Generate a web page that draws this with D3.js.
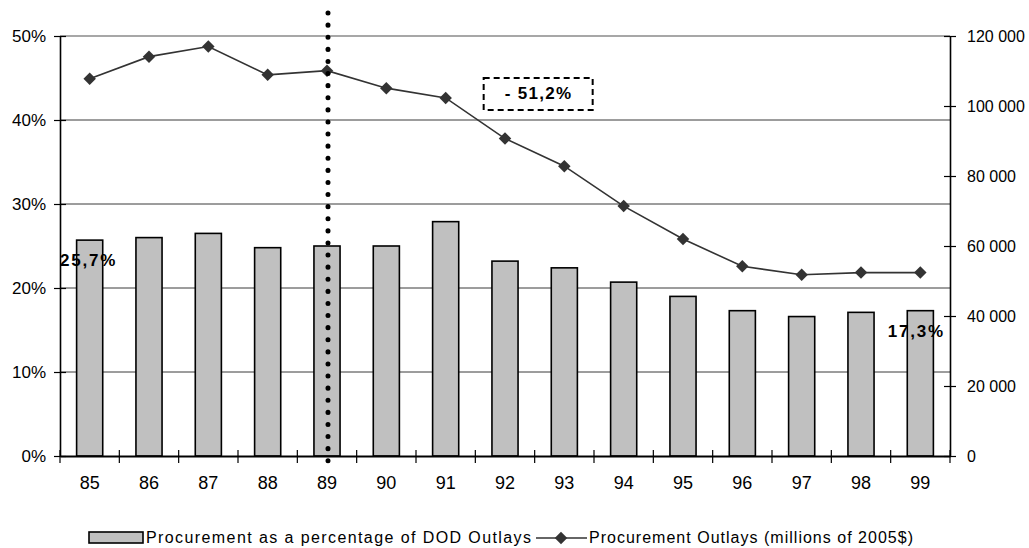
<!DOCTYPE html>
<html>
  <head>
    <meta charset="utf-8">
    <title>Procurement outlays</title>
    <script src="https://d3js.org/d3.v7.min.js"></script>
    <style>
      body { margin: 0; background: #fff; }
      text { font-family: "Liberation Sans", Arial, sans-serif; fill: #000; }
      .grid line { stroke: #3a3a3a; stroke-width: 1px; }
      .bar { fill: #c0c0c0; stroke: #000; stroke-width: 1.6px; }
    </style>
  </head>
  <body>
    <script>

      // chart data
      var years = ["85", "86", "87", "88", "89", "90", "91", "92", "93", "94", "95", "96", "97", "98", "99"];
      var pctOfOutlays = [25.7, 26.0, 26.5, 24.8, 25.0, 25.0, 27.9, 23.2, 22.4, 20.7, 19.0, 17.3, 16.6, 17.1, 17.3];
      var outlays = [107800, 114100, 117000, 108900, 110100, 105100, 102300, 90700, 82800, 71400, 62000, 54200, 51800, 52400, 52400];
      var leftTicks = [0, 10, 20, 30, 40, 50];
      var rightTicks = [0, 20000, 40000, 60000, 80000, 100000, 120000];
      var labelled = [{ year: "85", text: "25,7%", dx: 0 }, { year: "99", text: "17,3%", dx: -3 }];
      var changeText = "- 51,2%";
      var markerYear = "89";
      var legendBar = "Procurement as a percentage of DOD Outlays";
      var legendLine = "Procurement Outlays (millions of 2005$)";

      var width = 1029, height = 548;
      var margin = { top: 36, right: 79, bottom: 92, left: 60 };
      var plotW = width - margin.left - margin.right;
      var plotH = height - margin.top - margin.bottom;

      var svg = d3.select("body").append("svg")
        .attr("width", width)
        .attr("height", height);

      svg.append("rect").attr("width", width).attr("height", height).attr("fill", "#fff");

      var g = svg.append("g").attr("transform", "translate(" + margin.left + "," + margin.top + ")");

      var xScale = d3.scaleBand().domain(years).range([0, plotW]).paddingInner(0.56).paddingOuter(0.28);
      var xBand = d3.scaleBand().domain(years).range([0, plotW]); // no padding, for ticks
      var yLeft = d3.scaleLinear().domain([0, 50]).range([plotH, 0]);
      var yRight = d3.scaleLinear().domain([0, 120000]).range([plotH, 0]);

      var fmtSpace = d3.formatLocale({ decimal: ",", thousands: "\u00a0", grouping: [3], currency: ["", ""] }).format(",d");

      // gridlines
      var grid = g.append("g").attr("class", "grid");
      grid.selectAll("line").data(leftTicks.filter(function (d) { return d > 0; }))
        .enter().append("line")
        .attr("x1", 0).attr("x2", plotW)
        .attr("y1", function (d) { return yLeft(d); })
        .attr("y2", function (d) { return yLeft(d); })
        .style("stroke", function (d) { return d === 50 ? "#8a8a8a" : null; })
        .style("stroke-width", function (d) { return d === 50 ? "1.6px" : null; });

      // bars
      g.selectAll(".bar").data(pctOfOutlays)
        .enter().append("rect")
        .attr("class", "bar")
        .attr("x", function (d, i) { return xScale(years[i]); })
        .attr("width", xScale.bandwidth())
        .attr("y", function (d) { return yLeft(d); })
        .attr("height", function (d) { return plotH - yLeft(d); });

      // left axis
      var leftAxis = d3.axisLeft(yLeft).tickValues(leftTicks).tickFormat(function (d) { return d + "%"; })
        .tickSizeInner(-6).tickSizeOuter(0).tickPadding(14);
      var la = g.append("g").call(leftAxis);
      la.select(".domain").attr("stroke", "#000").attr("stroke-width", 1.6);
      la.selectAll(".tick line").attr("x1", -6).attr("x2", 6).attr("stroke", "#000").attr("stroke-width", 1.2);
      la.selectAll("text").style("font-size", "17px").attr("dy", "0.35em");

      // right axis
      var rightAxis = d3.axisRight(yRight).tickValues(rightTicks).tickFormat(fmtSpace)
        .tickSizeInner(6).tickSizeOuter(0).tickPadding(11);
      var ra = g.append("g").attr("transform", "translate(" + plotW + ",0)").call(rightAxis);
      ra.select(".domain").attr("stroke", "#000").attr("stroke-width", 1.6);
      ra.selectAll(".tick line").attr("x1", -6).attr("x2", 6).attr("stroke", "#000").attr("stroke-width", 1.2);
      ra.selectAll("text").style("font-size", "16px").attr("dy", "0.35em");

      // bottom axis
      var bottomAxis = d3.axisBottom(xScale).tickSize(0).tickPadding(20);
      var ba = g.append("g").attr("transform", "translate(0," + plotH + ")").call(bottomAxis);
      ba.select(".domain").attr("stroke", "#000").attr("stroke-width", 2);
      ba.selectAll("text").style("font-size", "18px");
      ba.selectAll(".sep").data(years.concat(["end"]))
        .enter().append("line")
        .attr("x1", function (d, i) { return i * xBand.bandwidth(); })
        .attr("x2", function (d, i) { return i * xBand.bandwidth(); })
        .attr("y1", -6).attr("y2", 7)
        .attr("stroke", "#000").attr("stroke-width", 1.2);

      // line series
      var line = d3.line()
        .x(function (d, i) { return xBand(years[i]) + xBand.bandwidth() / 2; })
        .y(function (d) { return yRight(d); });

      g.append("path").datum(outlays)
        .attr("d", line)
        .attr("fill", "none")
        .attr("stroke", "#333")
        .attr("stroke-width", 1.6);

      var diamond = d3.symbol().type(d3.symbolSquare).size(78);
      g.selectAll(".pt").data(outlays)
        .enter().append("path")
        .attr("class", "pt")
        .attr("d", diamond)
        .attr("fill", "#333")
        .attr("transform", function (d, i) {
          return "translate(" + (xBand(years[i]) + xBand.bandwidth() / 2) + "," + yRight(d) + ") rotate(45)";
        });

      // bar value labels
      g.selectAll(".vlab").data(labelled)
        .enter().append("text")
        .attr("x", function (d) { return xBand(d.year) + xBand.bandwidth() / 2 - 1 + d.dx; })
        .attr("y", function (d) { return yLeft(pctOfOutlays[years.indexOf(d.year)]) + 20; })
        .attr("dy", "0.35em")
        .attr("text-anchor", "middle")
        .style("font-size", "17px")
        .style("font-weight", "bold")
        .style("letter-spacing", "1.8px")
        .text(function (d) { return d.text; });

      // dotted marker line
      var mx = xBand(markerYear) + xBand.bandwidth() / 2 + 1;
      g.append("line")
        .attr("x1", mx).attr("x2", mx)
        .attr("y1", -23).attr("y2", plotH + 15)
        .attr("stroke", "#000")
        .attr("stroke-width", 5)
        .attr("stroke-linecap", "round")
        .attr("stroke-dasharray", "0.1 12");

      // change annotation
      var boxX = xBand("93") - 51, boxY = yRight(108000);
      var ann = g.append("g").attr("transform", "translate(" + boxX + "," + boxY + ")");
      ann.append("rect")
        .attr("x", 0).attr("y", 0).attr("width", 109).attr("height", 32)
        .attr("fill", "none").attr("stroke", "#000").attr("stroke-width", 2)
        .attr("stroke-dasharray", "6 4");
      ann.append("text")
        .attr("x", 55).attr("y", 15).attr("dy", "0.35em")
        .attr("text-anchor", "middle")
        .style("font-size", "17px").style("font-weight", "bold").style("letter-spacing", "1.3px")
        .text(changeText);

      // legend
      var leg = svg.append("g").attr("transform", "translate(0,537)");
      leg.append("rect")
        .attr("x", 89).attr("y", -5).attr("width", 54).attr("height", 11)
        .attr("fill", "#c0c0c0").attr("stroke", "#000").attr("stroke-width", 1.6);
      leg.append("text")
        .attr("x", 146).attr("y", 0).attr("dy", "0.35em")
        .attr("textLength", 385).attr("lengthAdjust", "spacing")
        .style("font-size", "16px")
        .text(legendBar);
      leg.append("line")
        .attr("x1", 536).attr("x2", 587).attr("y1", 1).attr("y2", 1)
        .attr("stroke", "#333").attr("stroke-width", 1.6);
      leg.append("path")
        .attr("d", diamond)
        .attr("fill", "#333")
        .attr("transform", "translate(561,1) rotate(45)");
      leg.append("text")
        .attr("x", 589).attr("y", 0).attr("dy", "0.35em")
        .attr("textLength", 324).attr("lengthAdjust", "spacing")
        .style("font-size", "16px")
        .text(legendLine);

    </script>
  </body>
</html>
